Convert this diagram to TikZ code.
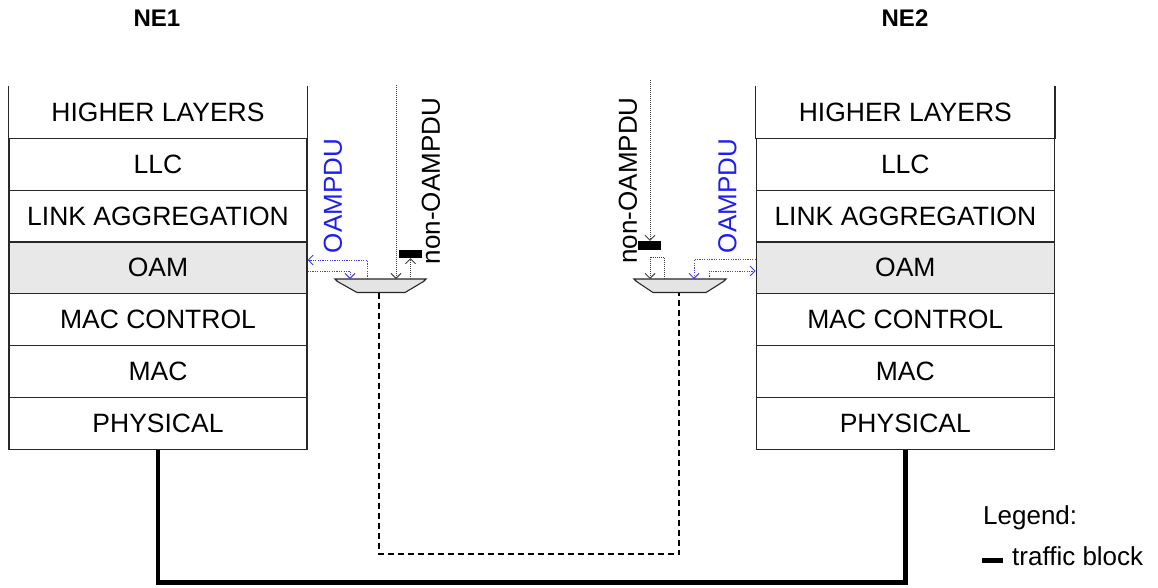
\documentclass[tikz,border=0pt]{standalone}
\usepackage{fontspec}
\setmainfont{Liberation Sans}
\usetikzlibrary{arrows.meta}
\definecolor{oamgray}{RGB}{232,232,232}
\definecolor{muxgray}{RGB}{228,228,228}
\definecolor{oamblue}{RGB}{30,30,240}
\definecolor{dotblue}{RGB}{60,60,245}
\definecolor{edge}{RGB}{40,40,40}
\begin{document}
\begin{tikzpicture}[x=1pt,y=-1pt,
  layer/.style={draw=edge, line width=1.2pt, minimum width=298pt, minimum height=51.8pt,
    inner sep=0pt, font=\fontsize{26.5}{30}\selectfont},
  toplayer/.style={layer, draw=none},
  title/.style={font=\bfseries\fontsize{24}{28}\selectfont},
  vlabel/.style={rotate=90, inner sep=0pt, font=\fontsize{26}{30}\selectfont},
  muxshape/.style={draw=edge, line width=1.1pt, fill=muxgray},
  tblock/.style={fill=black, inner sep=0pt},
  arrowtip/.style={-{Straight Barb[length=5pt,width=10pt,line width=0.9pt]}},
  dotblack/.style={draw=black!75, line width=0.8pt, dash pattern=on 1pt off 1pt},
  dotblu/.style={draw=dotblue, line width=0.9pt, dash pattern=on 1.2pt off 1.2pt},
  physlink/.style={line width=4.5pt},
  oamlink/.style={line width=1.8pt, dash pattern=on 6pt off 4pt},
  legendtext/.style={font=\fontsize{26}{30}\selectfont, inner sep=0pt, anchor=west}
]
\useasboundingbox (0,0) rectangle (1158,587);

% titles
\node[title] (ne1) at (157,18) {NE1};
\node[title] (ne2) at (905,18) {NE2};

% protocol stacks
\foreach \s/\cx in {a/158,b/905.3}{
  \node[toplayer] (\s-hl) at (\cx,112.4) {HIGHER LAYERS};
  \node[layer] (\s-llc) at (\cx,164.2) {LLC};
  \node[layer] (\s-la) at (\cx,216) {LINK AGGREGATION};
  \node[layer, fill=oamgray] (\s-oam) at (\cx,267.8) {OAM};
  \node[layer] (\s-mc) at (\cx,319.6) {MAC CONTROL};
  \node[layer] (\s-mac) at (\cx,371.4) {MAC};
  \node[layer] (\s-phy) at (\cx,423.2) {PHYSICAL};
  \draw[draw=edge, line width=1.2pt] (\s-hl.north west) -- (\s-hl.south west)
        (\s-hl.north east) -- (\s-hl.south east);
}

% multiplexers
\path[muxshape] (335,279) -- (426,279) -- (423.5,281.5) -- (405,292.5) -- (357,292.5) -- (337.5,281.5) -- cycle;
\path[muxshape] (634,279) -- (726,279) -- (723.5,281.5) -- (706,292.5) -- (653,292.5) -- (636.5,281.5) -- cycle;
\coordinate (m1b) at (379,292.5);
\coordinate (m2b) at (679,292.5);
\coordinate (m1t) at (380,279);
\coordinate (m2t) at (680,279);

% OAM link between multiplexers
\coordinate (dl) at (379,554);
\coordinate (dr) at (679,554);
\draw[oamlink] (m1b) -- (dl) -- (dr) -- (m2b);

% physical link
\draw[physlink] (a-phy.south) -- ++(0,133) -| (b-phy.south);

% traffic blocks
\node[tblock, minimum width=23pt, minimum height=8pt] (blk1) at (410.5,254) {};
\node[tblock, minimum width=23pt, minimum height=9pt] (blk2) at (649.5,245.5) {};

% non-OAMPDU flows
\coordinate (n1top) at (396,85);
\draw[dotblack, arrowtip] (n1top) -- (m1t -| n1top);
\draw[dotblack, arrowtip] (m1t -| blk1.south) -- (blk1.south);
\coordinate (n2top) at (650,80);
\draw[dotblack, arrowtip] (n2top) -- (blk2.north -| n2top);
\coordinate (n2a) at (664,257);
\coordinate (n2b) at (650,257);
\draw[dotblack, arrowtip] (m2t -| n2a) -- (n2a) -- (n2b) -- (m2t -| n2b);

% OAMPDU flows, NE1
\coordinate (o1a) at (367,260);
\coordinate (o1b) at (350,271);
\draw[dotblu, arrowtip] (m1t -| o1a) -- (o1a) -- (o1a -| a-oam.east);
\draw[dotblu, arrowtip] (o1b -| a-oam.east) -- (o1b) -- (m1t -| o1b);
% OAMPDU flows, NE2
\coordinate (o2a) at (694,259.5);
\coordinate (o2b) at (709,271);
\draw[dotblu, arrowtip] (o2a -| b-oam.west) -- (o2a) -- (m2t -| o2a);
\draw[dotblu, arrowtip] (m2t -| o2b) -- (o2b) -- (o2b -| b-oam.west);

% labels
\node[vlabel, oamblue] (lo1) at (333,196) {OAMPDU};
\node[vlabel] (ln1) at (431,181) {non-OAMPDU};
\node[vlabel, oamblue] (lo2) at (727.5,196) {OAMPDU};
\node[vlabel] (ln2) at (628,180.5) {non-OAMPDU};

% legend
\node[legendtext] (leg) at (983,518) {Legend:};
\node[tblock, minimum width=21pt, minimum height=5pt] (legblk) at (992.5,560.5) {};
\node[legendtext] (legt) at (1012,556) {traffic block};
\end{tikzpicture}
\end{document}
